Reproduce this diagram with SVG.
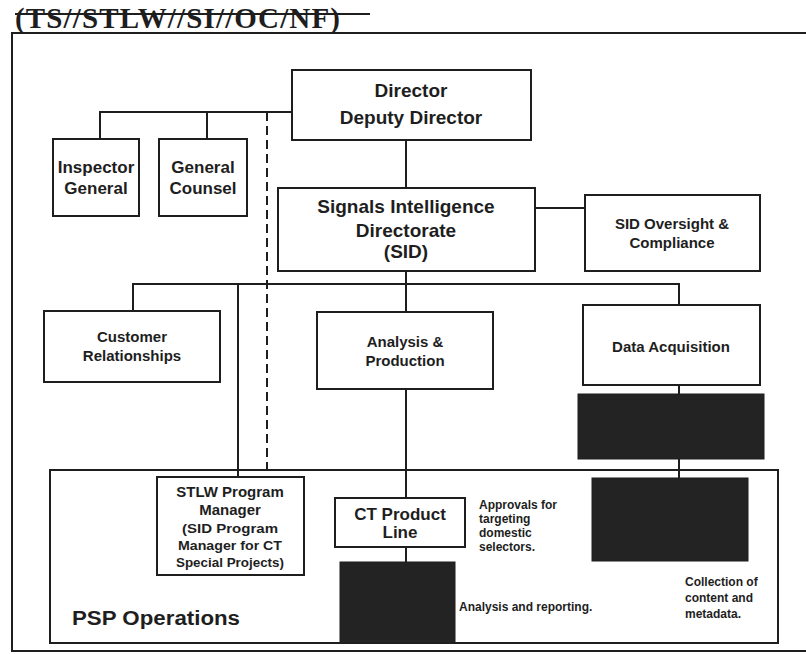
<svg xmlns="http://www.w3.org/2000/svg" width="806" height="654" viewBox="0 0 806 654">
<style>
.box{fill:#fff;stroke:#1e1e1e;stroke-width:2}
.blk{fill:#232323;stroke:#1e1e1e;stroke-width:1}
.ln{fill:none;stroke:#1e1e1e;stroke-width:2}
.t{font-family:"Liberation Sans",Arial,sans-serif;font-weight:bold;fill:#1e1e1e;text-anchor:middle}
.n{font-family:"Liberation Sans",Arial,sans-serif;font-weight:bold;fill:#1e1e1e;font-size:12px}
</style>
<rect width="806" height="654" fill="#fff"/>
<g id="header">
<text x="15" y="28" font-family="'Liberation Serif','Times New Roman',serif" font-weight="bold" font-size="29" fill="#1e1e1e" textLength="325" lengthAdjust="spacing">(TS//STLW//SI//OC/NF)</text>
<line x1="15" y1="14" x2="370" y2="14" stroke="#1e1e1e" stroke-width="2"/>
</g>
<g id="frame" class="ln">
<polyline points="806,33 12,33 12,651 806,651"/>
</g>
<g id="connectors" class="ln">
<polyline points="292,112 100,112 100,139"/>
<line x1="207" y1="112" x2="207" y2="139"/>
<line x1="267" y1="112" x2="267" y2="470" stroke-dasharray="9,5"/>
<line x1="406" y1="140" x2="406" y2="188"/>
<line x1="535" y1="208" x2="585" y2="208"/>
<line x1="406" y1="271" x2="406" y2="312"/>
<polyline points="133,311 133,284 679,284 679,305"/>
<line x1="238" y1="284" x2="238" y2="477"/>
<line x1="406" y1="389" x2="406" y2="498"/>
<line x1="406" y1="547" x2="406" y2="562"/>
<line x1="679" y1="385" x2="679" y2="394"/>
<line x1="679" y1="459" x2="679" y2="478"/>
</g>
<g id="psp-operations">
<rect x="50" y="470" width="728" height="173" fill="none" stroke="#1e1e1e" stroke-width="2"/>
<text x="72" y="625" font-family="'Liberation Sans',Arial,sans-serif" font-weight="bold" font-size="20" fill="#1e1e1e" textLength="168" lengthAdjust="spacingAndGlyphs">PSP Operations</text>
</g>
<g id="director">
<rect class="box" x="292" y="70" width="239" height="70"/>
<text class="t" x="411" y="97" font-size="19">Director</text>
<text class="t" x="411" y="124" font-size="19">Deputy Director</text>
</g>
<g id="inspector-general">
<rect class="box" x="53" y="139" width="86" height="77"/>
<text class="t" x="96" y="173" font-size="17">Inspector</text>
<text class="t" x="96" y="194" font-size="17">General</text>
</g>
<g id="general-counsel">
<rect class="box" x="159" y="139" width="88" height="77"/>
<text class="t" x="203" y="173" font-size="17">General</text>
<text class="t" x="203" y="194" font-size="17">Counsel</text>
</g>
<g id="sid">
<rect class="box" x="278" y="188" width="257" height="83"/>
<text class="t" x="406" y="213" font-size="19">Signals Intelligence</text>
<text class="t" x="406" y="237" font-size="19">Directorate</text>
<text class="t" x="406" y="258" font-size="19">(SID)</text>
</g>
<g id="sid-oversight">
<rect class="box" x="585" y="195" width="175" height="76"/>
<text class="t" x="672" y="229" font-size="15">SID Oversight &amp;</text>
<text class="t" x="672" y="248" font-size="15">Compliance</text>
</g>
<g id="customer-relationships">
<rect class="box" x="44" y="311" width="176" height="71"/>
<text class="t" x="132" y="342" font-size="15">Customer</text>
<text class="t" x="132" y="361" font-size="15">Relationships</text>
</g>
<g id="analysis-production">
<rect class="box" x="317" y="312" width="176" height="77"/>
<text class="t" x="405" y="347" font-size="15">Analysis &amp;</text>
<text class="t" x="405" y="366" font-size="15">Production</text>
</g>
<g id="data-acquisition">
<rect class="box" x="583" y="305" width="177" height="80"/>
<text class="t" x="671" y="352" font-size="15">Data Acquisition</text>
</g>
<g id="redacted-1"><rect class="blk" x="578" y="394" width="186" height="65"/></g>
<g id="stlw-program-manager">
<rect class="box" x="157" y="477" width="147" height="98"/>
<text class="t" x="230" y="497" font-size="15">STLW Program</text>
<text class="t" x="230" y="515" font-size="15">Manager</text>
<text class="t" x="230" y="533" font-size="13" textLength="96" lengthAdjust="spacingAndGlyphs">(SID Program</text>
<text class="t" x="230" y="550" font-size="13" textLength="104" lengthAdjust="spacingAndGlyphs">Manager for CT</text>
<text class="t" x="230" y="567" font-size="13" textLength="108" lengthAdjust="spacingAndGlyphs">Special Projects)</text>
</g>
<g id="ct-product-line">
<rect class="box" x="335" y="498" width="130" height="49"/>
<text class="t" x="400" y="520" font-size="17">CT Product</text>
<text class="t" x="400" y="538" font-size="17">Line</text>
</g>
<g id="redacted-2"><rect class="blk" x="340" y="562" width="115" height="81"/></g>
<g id="redacted-3"><rect class="blk" x="592" y="478" width="156" height="83"/></g>
<g id="notes">
<text class="n" x="479" y="509">Approvals for</text>
<text class="n" x="479" y="523">targeting</text>
<text class="n" x="479" y="537">domestic</text>
<text class="n" x="479" y="551">selectors.</text>
<text class="n" x="459" y="611">Analysis and reporting.</text>
<text class="n" x="685" y="586">Collection of</text>
<text class="n" x="685" y="602">content and</text>
<text class="n" x="685" y="618">metadata.</text>
</g>
</svg>
